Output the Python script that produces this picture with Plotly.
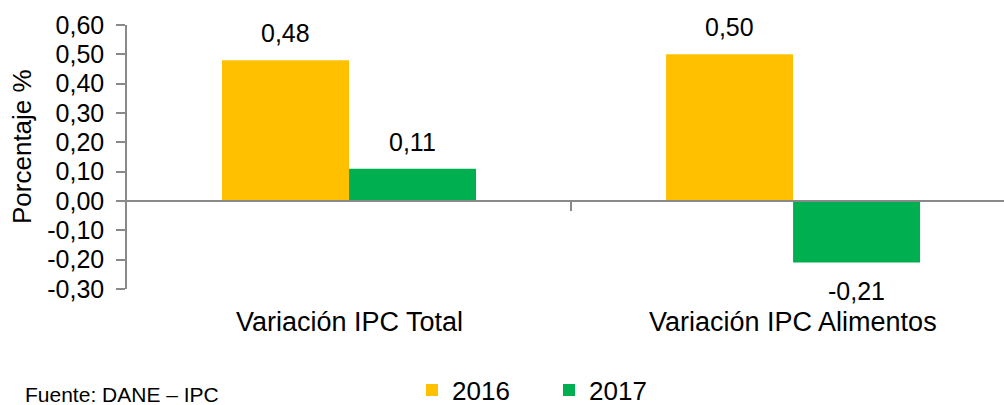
import plotly.graph_objects as go

categories = ["Variación IPC Total", "Variación IPC Alimentos"]
series_names = ["2016", "2017"]
values_2016 = [0.48, 0.50]
values_2017 = [0.11, -0.21]
colors = ["#FFC000", "#00B050"]
ytick_vals = [-0.3, -0.2, -0.1, 0.0, 0.1, 0.2, 0.3, 0.4, 0.5, 0.6]
ytick_text = [f"{v:.2f}".replace(".", ",") for v in ytick_vals]

FONT = "Arial, Liberation Sans, sans-serif"
xpos = list(range(len(categories)))
bar_w = 0.286

W, H = 1004, 405
L, R, T, B = 127, 0, 25, 116
pw, ph = W - L - R, H - T - B

fig = go.Figure()
for name, vals, col in zip(series_names, [values_2016, values_2017], colors):
    fig.add_trace(go.Bar(x=xpos, y=vals, name=name, marker=dict(color=col, line=dict(width=0))))

annotations = []
# data labels
for vals, off in zip([values_2016, values_2017], [-bar_w / 2, bar_w / 2]):
    for xi, v in zip(xpos, vals):
        annotations.append(dict(
            x=xi + off, y=v, xref="x", yref="y",
            text=f"{v:.2f}".replace(".", ","), showarrow=False,
            font=dict(size=25, color="black", family=FONT),
            yanchor="middle", yshift=27 if v >= 0 else -28,
        ))
# category labels
for xi, c in zip(xpos, categories):
    annotations.append(dict(
        x=xi, y=0, xref="x", yref="paper", text=c, showarrow=False,
        font=dict(size=27, color="black", family=FONT),
        yanchor="middle", yshift=-33,
    ))
# y title
annotations.append(dict(
    x=(22 - L) / pw, y=(H - 147 - B) / ph, xref="paper", yref="paper",
    text="Porcentaje %", showarrow=False, textangle=-90,
    font=dict(size=26, color="black", family=FONT),
    xanchor="center", yanchor="middle",
))
# source note
annotations.append(dict(
    x=(23 - L) / pw, y=(H - 395 - B) / ph, xref="paper", yref="paper",
    text="Fuente: DANE – IPC", showarrow=False,
    font=dict(size=21, color="black", family=FONT),
    xanchor="left", yanchor="middle",
))

fig.update_layout(
    width=W, height=H,
    margin=dict(l=L, r=R, t=T, b=B, pad=0, autoexpand=False),
    plot_bgcolor="white", paper_bgcolor="white",
    barmode="group", bargap=1 - 2 * bar_w, bargroupgap=0,
    font=dict(family=FONT, size=25, color="black"),
    showlegend=True,
    legend=dict(
        orientation="h", xref="container", yref="container",
        x=412 / W, y=(H - 390) / H,
        xanchor="left", yanchor="middle",
        font=dict(size=26, color="black", family=FONT),
        entrywidth=92, bgcolor="rgba(0,0,0,0)",
    ),
    annotations=annotations,
    xaxis=dict(
        range=[-0.5, 1.475], showgrid=False, zeroline=False,
        showline=True, linecolor="#898989", linewidth=1.5,
        anchor="free", position=1 / 3,
        tickmode="array", tickvals=[0.5], ticktext=[""],
        ticks="outside", ticklen=9, tickcolor="#898989", tickwidth=1.5,
        showticklabels=False,
    ),
    yaxis=dict(
        range=[-0.3, 0.6], showgrid=False, zeroline=False,
        showline=True, linecolor="#898989", linewidth=1.5,
        tickmode="array", tickvals=ytick_vals, ticktext=ytick_text,
        ticks="outside", ticklen=9, tickcolor="#898989", tickwidth=1.5,
        tickfont=dict(size=25, color="black", family=FONT),
        ticklabelstandoff=7, automargin=False,
    ),
)

fig.write_html(
    "out.html",
    config={"displayModeBar": False},
    post_script="document.body.style.margin='0';document.body.style.overflow='hidden';",
)
